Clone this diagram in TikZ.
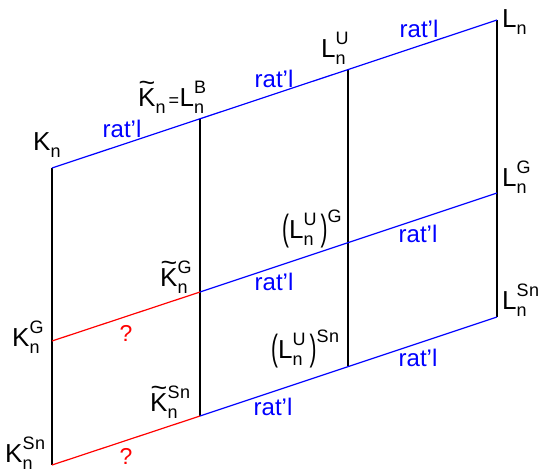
\documentclass[tikz,border=0pt]{standalone}
\usepackage{fontspec}
\setmainfont{Liberation Sans}
\usepackage{graphicx}
\newcommand\mainsz{\fontsize{26}{30}\selectfont}
\newcommand\scrsz{\fontsize{18}{21}\selectfont}
\newcommand\SubSup[2]{\makebox[0pt][l]{\raisebox{-7pt}{\scrsz #1}}\raisebox{13pt}{\scrsz #2}}
\newcommand\SubOnly[1]{\raisebox{-7pt}{\scrsz #1}}
\newcommand\TildeK{{\ooalign{K\cr\hidewidth\raisebox{14.5pt}{\scalebox{1.1}[1]{\char"7E}}\hidewidth\cr}}}
\newcommand\BigLp{\raisebox{-2pt}{\scalebox{0.8}[1.4]{(}}}
\newcommand\BigRp{\raisebox{-2pt}{\scalebox{0.8}[1.4]{)}}}
\tikzset{
  blueline/.style={draw={rgb,255:red,0;green,0;blue,255}, line width=1.2pt},
  redline/.style={draw={rgb,255:red,255;green,0;blue,0}, line width=1.2pt},
  blackline/.style={draw=black, line width=1.1pt},
  lab/.style={inner sep=0pt, anchor=base west, font=\mainsz},
  rat/.style={inner sep=0pt, anchor=center, text={rgb,255:red,0;green,0;blue,255}, font=\fontsize{24}{28}\selectfont},
  qm/.style={inner sep=0pt, anchor=center, text={rgb,255:red,255;green,0;blue,0}, font=\fontsize{23}{27}\selectfont},
}
\begin{document}
\begin{tikzpicture}[x=1pt,y=-1pt]
\useasboundingbox (0,0) rectangle (543,472);
% grid corners
\coordinate (a1) at (52,168);
\coordinate (a2) at (200,119);
\coordinate (a3) at (348,69);
\coordinate (a4) at (497,20);
\coordinate (b1) at (52,341);
\coordinate (b2) at (200,292);
\coordinate (b3) at (348,242);
\coordinate (b4) at (497,193);
\coordinate (c1) at (52,465);
\coordinate (c2) at (200,416);
\coordinate (c3) at (348,366);
\coordinate (c4) at (497,317);
% verticals
\draw[blackline] (a1) -- (c1);
\draw[blackline] (a2) -- (c2);
\draw[blackline] (a3) -- (c3);
\draw[blackline] (a4) -- (c4);
% horizontals
\draw[blueline] (a1) -- (a4);
\draw[redline] (b1) -- (b2);
\draw[blueline] (b2) -- (b4);
\draw[redline] (c1) -- (c2);
\draw[blueline] (c2) -- (c4);
% labels
\node[lab] (Kn) at (33,150) {K\SubOnly{n}};
\node[lab] (KtB) at (138,106) {\TildeK\SubOnly{n}\kern3pt{\scrsz=}\kern0.5pt L\SubSup{n}{B}};
\node[lab] (LU) at (321,57) {L\SubSup{n}{U}};
\node[lab] (Ln) at (502,27) {L\SubOnly{n}};
\node[lab] (LG) at (502,186) {L\SubSup{n}{G}};
\node[lab] (LS) at (502,309) {L\SubSup{n}{S\kern0.5pt n}};
\node[lab] (LUG) at (282,238) {\BigLp L\SubSup{n}{U}\hspace{4pt}\BigRp\raisebox{16pt}{\scrsz G}};
\node[lab] (LUS) at (271,358) {\BigLp L\SubSup{n}{U}\hspace{4pt}\BigRp\raisebox{16pt}{\scrsz S\kern0.5pt n}};
\node[lab] (KtG) at (160,286) {\TildeK\SubSup{n}{G}};
\node[lab] (KG) at (12,346) {K\SubSup{n}{G}};
\node[lab] (KtS) at (150,411) {\TildeK\SubSup{n}{S\kern0.5pt n}};
\node[lab] (KS) at (5,462) {K\SubSup{n}{S\kern0.5pt n}};
% edge labels
\node[rat] (r1) at (122,129) {rat'l};
\node[rat] (r2) at (274,79) {rat'l};
\node[rat] (r3) at (419,29) {rat'l};
\node[rat] (r4) at (418,234) {rat'l};
\node[rat] (r5) at (274,282) {rat'l};
\node[rat] (r6) at (273,407) {rat'l};
\node[rat] (r7) at (418,358) {rat'l};
\node[qm] (q1) at (126,333) {?};
\node[qm] (q2) at (126,456) {?};
\end{tikzpicture}
\end{document}
